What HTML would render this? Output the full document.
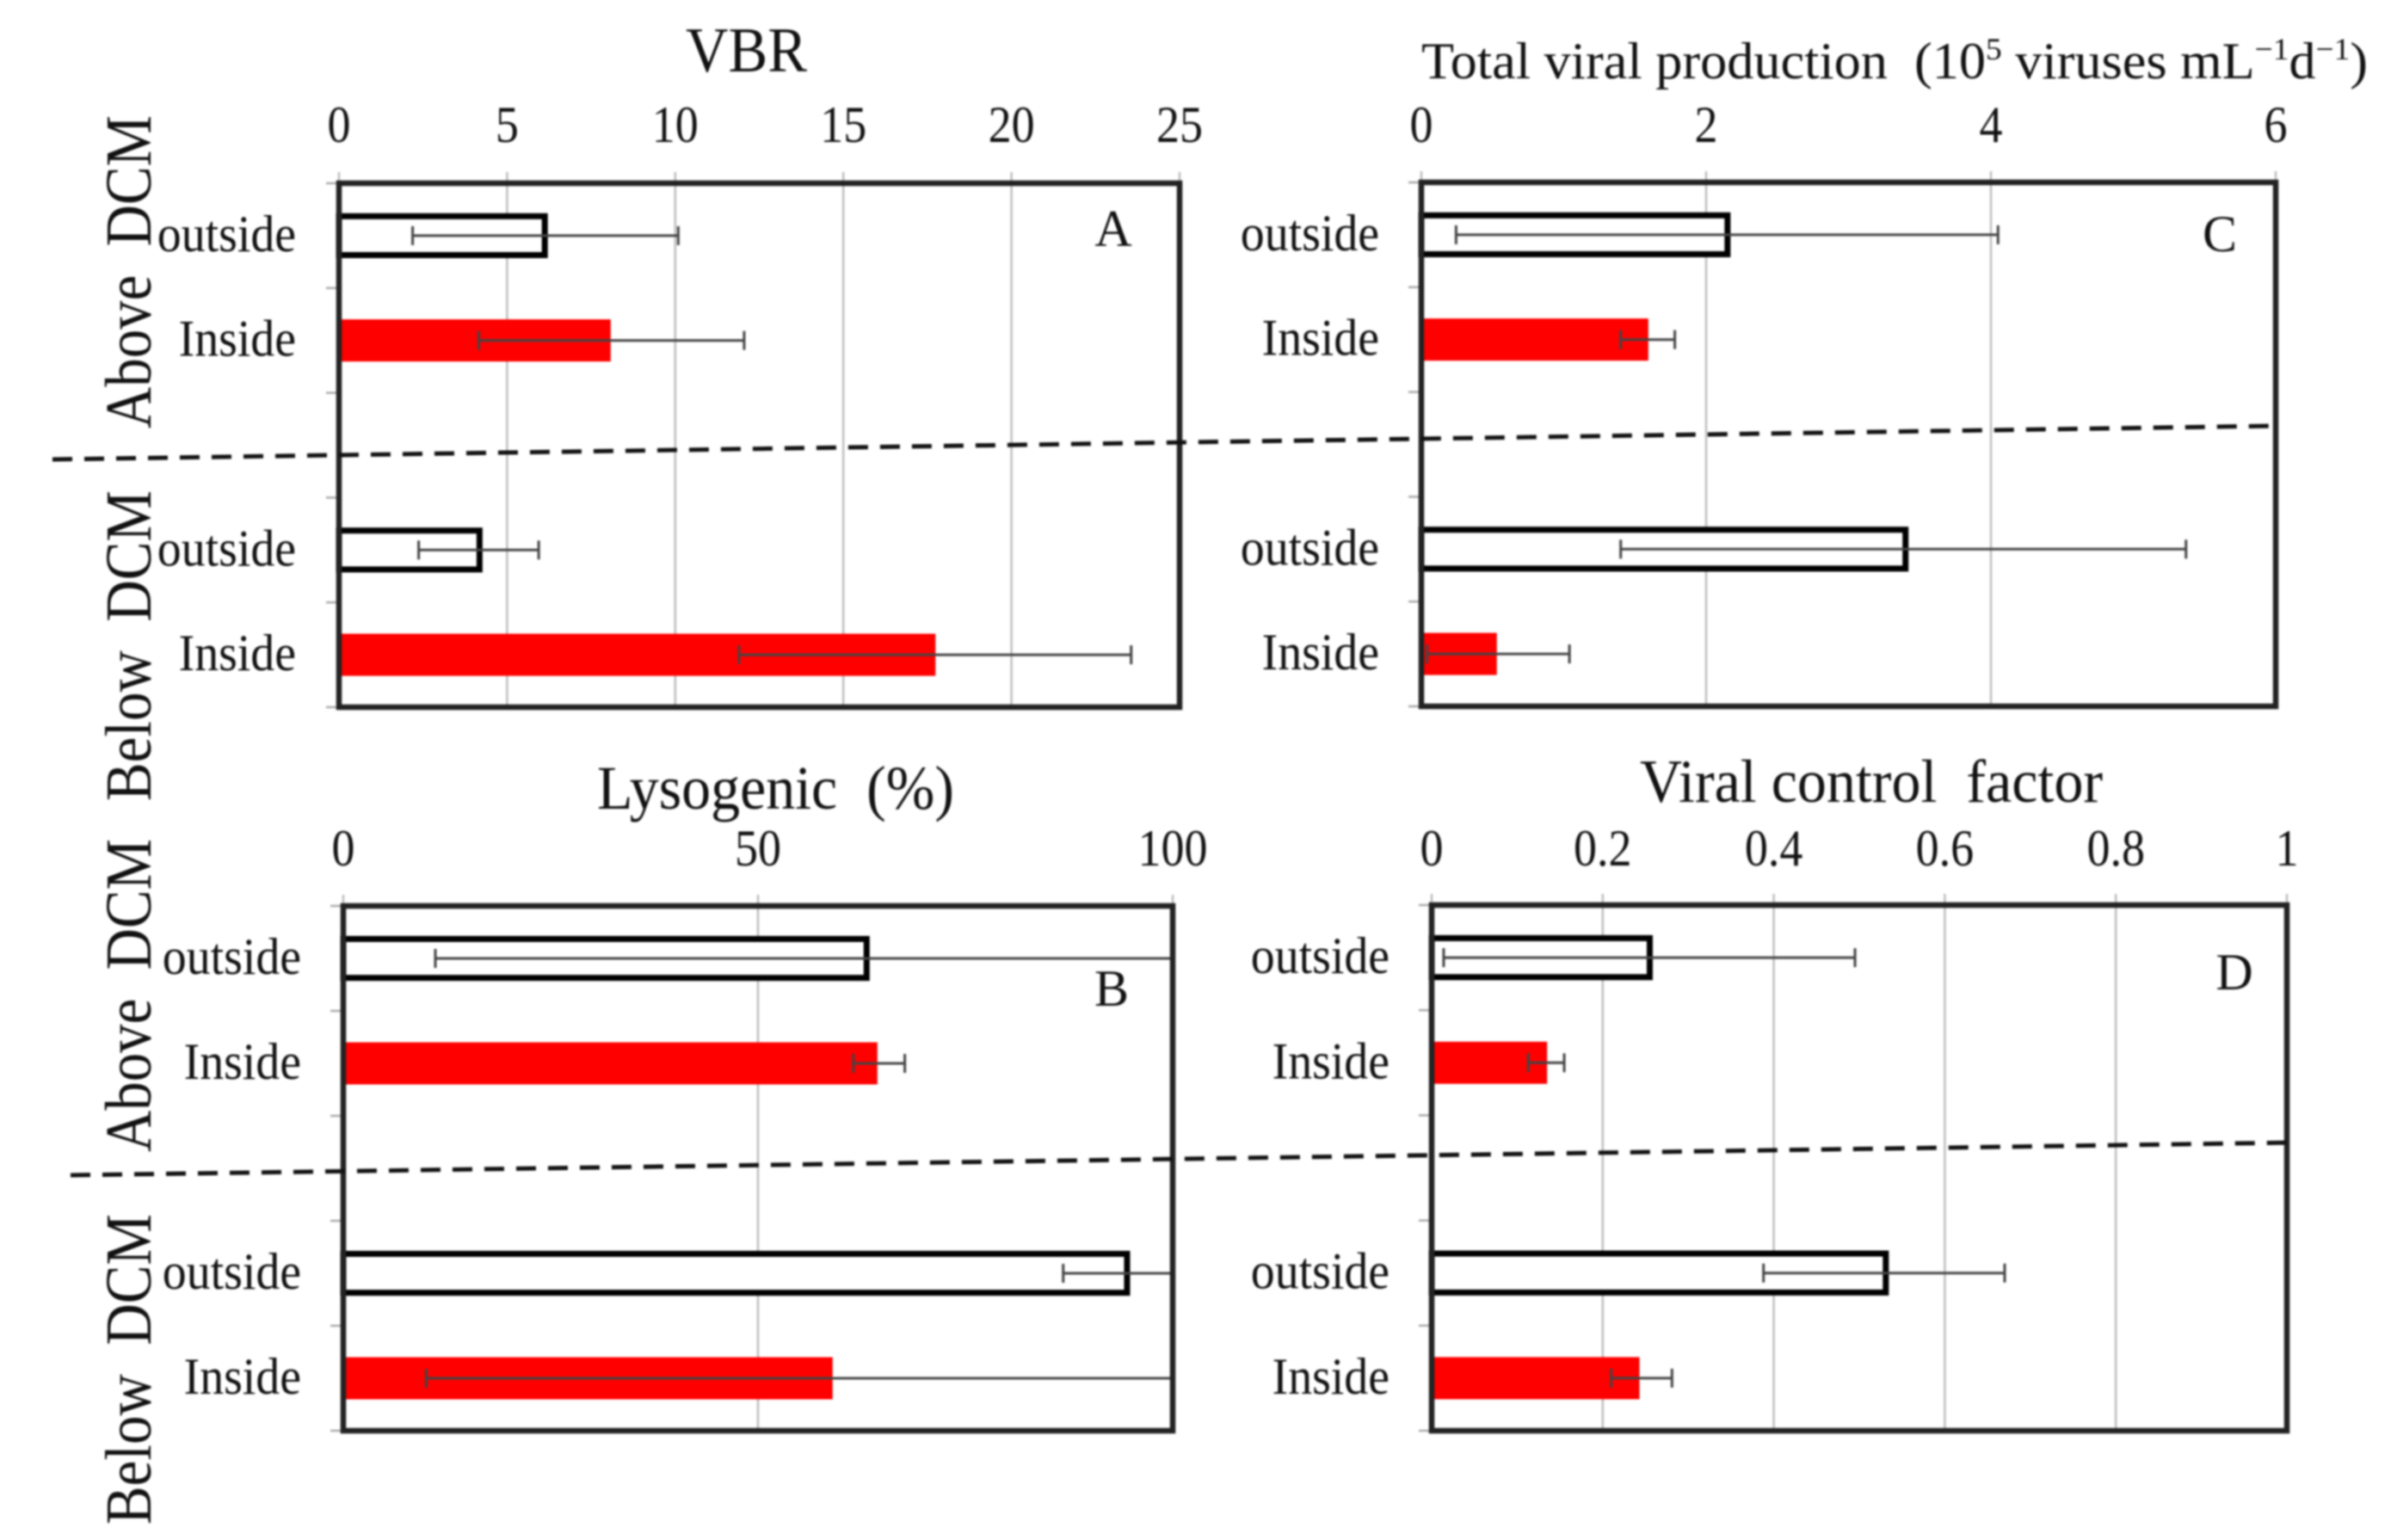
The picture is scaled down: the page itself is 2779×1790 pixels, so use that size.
<!DOCTYPE html>
<html lang="en">
<head>
<meta charset="utf-8">
<title>Viral parameters above and below the DCM</title>
<style>
html,body{margin:0;padding:0;background:#fff;width:2779px;height:1790px;overflow:hidden}
svg{display:block;filter:blur(1px)}
text{font-family:"Liberation Serif",serif;fill:#111;white-space:pre}
</style>
</head>
<body>
<svg id="figure" xmlns="http://www.w3.org/2000/svg" width="2779" height="1790" viewBox="0 0 2779 1790">
  <g id="panel-a"></g>
  <g id="panel-b"></g>
  <g id="panel-c"></g>
  <g id="panel-d"></g>

  <line x1="61" y1="534" x2="2645" y2="495" stroke="#111" stroke-width="5" stroke-dasharray="23 14"/>
  <line x1="82" y1="1366" x2="2669" y2="1328" stroke="#111" stroke-width="5" stroke-dasharray="23 14"/>

  <text x="797" y="83" font-size="74" textLength="141" lengthAdjust="spacingAndGlyphs">VBR</text>
  <text x="1652" y="91" font-size="60" textLength="1100" lengthAdjust="spacingAndGlyphs">Total viral production  (10<tspan font-size="36" dy="-22">5</tspan><tspan dy="22"> viruses mL</tspan><tspan font-size="36" dy="-22">−1</tspan><tspan dy="22">d</tspan><tspan font-size="36" dy="-22">−1</tspan><tspan dy="22">)</tspan></text>
  <text x="694" y="940" font-size="72" textLength="415" lengthAdjust="spacingAndGlyphs">Lysogenic  (%)</text>
  <text x="1906" y="932" font-size="71" textLength="538" lengthAdjust="spacingAndGlyphs">Viral control  factor</text>

  <text x="1294" y="286" font-size="60" text-anchor="middle">A</text>
  <text x="1292" y="1169" font-size="60" text-anchor="middle">B</text>
  <text x="2580" y="292" font-size="60" text-anchor="middle">C</text>
  <text x="2597" y="1150" font-size="60" text-anchor="middle">D</text>

  <text transform="translate(175,498) rotate(-90)" font-size="76" textLength="364" lengthAdjust="spacingAndGlyphs">Above  DCM</text>
  <text transform="translate(175,931) rotate(-90)" font-size="76" textLength="361" lengthAdjust="spacingAndGlyphs">Below  DCM</text>
  <text transform="translate(175,1339) rotate(-90)" font-size="76" textLength="364" lengthAdjust="spacingAndGlyphs">Above  DCM</text>
  <text transform="translate(175,1772) rotate(-90)" font-size="76" textLength="361" lengthAdjust="spacingAndGlyphs">Below  DCM</text>
</svg>
<script>
// Categories, top to bottom (the blank one is the empty band at the DCM)
const categories = ['outside', 'Inside', '', 'outside', 'Inside'];

// Panel A: VBR
const vbrTicks = [0, 5, 10, 15, 20, 25];
const vbrValues = [6.12, 8.08, null, 4.18, 17.74];
const vbrLow = [2.19, 4.16, null, 2.37, 11.9];
const vbrHigh = [10.09, 12.05, null, 5.94, 23.56];

// Panel B: Lysogenic (%)
const lysoTicks = [0, 50, 100];
const lysoValues = [63.1, 64.4, null, 94.5, 59];
const lysoLow = [11.1, 61.5, null, 86.8, 10];
const lysoHigh = [100, 67.7, null, 100, 100];

// Panel C: Total viral production
const prodTicks = [0, 2, 4, 6];
const prodValues = [2.15, 1.594, null, 3.4, 0.53];
const prodLow = [0.244, 1.4, null, 1.4, 0.04];
const prodHigh = [4.05, 1.78, null, 5.37, 1.04];

// Panel D: Viral control factor
const ctrlTicks = [0, 0.2, 0.4, 0.6, 0.8, 1];
const ctrlValues = [0.255, 0.135, null, 0.531, 0.243];
const ctrlLow = [0.014, 0.113, null, 0.388, 0.21];
const ctrlHigh = [0.495, 0.155, null, 0.67, 0.281];

const SVG_NS = 'http://www.w3.org/2000/svg';

function make(parent, tag, attrs) {
  const el = document.createElementNS(SVG_NS, tag);
  for (const key in attrs) el.setAttribute(key, attrs[key]);
  parent.appendChild(el);
  return el;
}

function condense(el, factor) {
  el.setAttribute('textLength', el.getComputedTextLength() * factor);
  el.setAttribute('lengthAdjust', 'spacingAndGlyphs');
}

function drawPanel(cfg) {
  const root = document.getElementById(cfg.id);
  const xScale = v => cfg.left + (v - cfg.ticks[0]) / (cfg.ticks[cfg.ticks.length - 1] - cfg.ticks[0]) * (cfg.right - cfg.left);
  const band = (cfg.bottom - cfg.top) / categories.length;
  const yScale = i => cfg.top + band * (i + 0.5);
  const barHeight = band * 0.42;

  cfg.ticks.forEach(t => {
    const x = xScale(t);
    const grid = make(root, 'line', {x1: x, x2: x, y1: cfg.top - 13, y2: cfg.bottom, stroke: '#bdbdbd', 'stroke-width': 2.5});
    
    
    const label = make(root, 'text', {x: x, y: cfg.tickY, 'font-size': 60, 'text-anchor': 'middle'});
    
    
    label.textContent = String(t);
    condense(label, 0.9);
  });

  for (let i = 0; i <= categories.length; i++) {
    const y = cfg.top + band * i;
    const tick = make(root, 'line', {x1: cfg.left - 15, x2: cfg.left, y1: y, y2: y, stroke: '#aaa', 'stroke-width': 2.5});
    
    
  }

  categories.forEach((name, i) => {
    if (cfg.values[i] === null) return;
    const y = yScale(i);
    const isInside = name === 'Inside';
    const end = xScale(cfg.values[i]);
    const bar = make(root, 'rect', isInside
      ? {x: cfg.left, y: y - 24.5, width: end - cfg.left, height: 49, fill: '#ff0000'}
      : {x: cfg.left, y: y - barHeight / 2 + 3, width: end - cfg.left, height: barHeight - 6, fill: '#fff', stroke: '#000', 'stroke-width': 7});
    
    

    const lo = xScale(cfg.low[i]);
    const hi = xScale(cfg.high[i]);
    const whisker = make(root, 'line', {x1: lo, x2: hi, y1: y, y2: y, stroke: '#444', 'stroke-width': 3});
    
    
    const capLow = make(root, 'line', {x1: lo, x2: lo, y1: y - 11, y2: y + 11, stroke: '#444', 'stroke-width': 3});
    
    
    const capHigh = make(root, 'line', {x1: hi, x2: hi, y1: y - 11, y2: y + 11, stroke: '#444', 'stroke-width': 3});
    
    

    const label = make(root, 'text', {x: cfg.labelX, y: y + 18, 'font-size': 60, 'text-anchor': 'end'});
    
    
    label.textContent = name;
    condense(label, 0.93);
  });

  const frame = make(root, 'rect', {x: cfg.left, y: cfg.top, width: cfg.right - cfg.left, height: cfg.bottom - cfg.top, fill: 'none', stroke: '#222', 'stroke-width': 6.5});
  
  
}

drawPanel({id: 'panel-a', ticks: vbrTicks, values: vbrValues, low: vbrLow, high: vbrHigh, left: 394, right: 1371, top: 213, bottom: 822, tickY: 165, labelX: 344});
drawPanel({id: 'panel-b', ticks: lysoTicks, values: lysoValues, low: lysoLow, high: lysoHigh, left: 399, right: 1363, top: 1053, bottom: 1663, tickY: 1006, labelX: 350});
drawPanel({id: 'panel-c', ticks: prodTicks, values: prodValues, low: prodLow, high: prodHigh, left: 1652, right: 2645, top: 212, bottom: 821, tickY: 165, labelX: 1603});
drawPanel({id: 'panel-d', ticks: ctrlTicks, values: ctrlValues, low: ctrlLow, high: ctrlHigh, left: 1664, right: 2658, top: 1052, bottom: 1663, tickY: 1006, labelX: 1615});
</script>
</body>
</html>
